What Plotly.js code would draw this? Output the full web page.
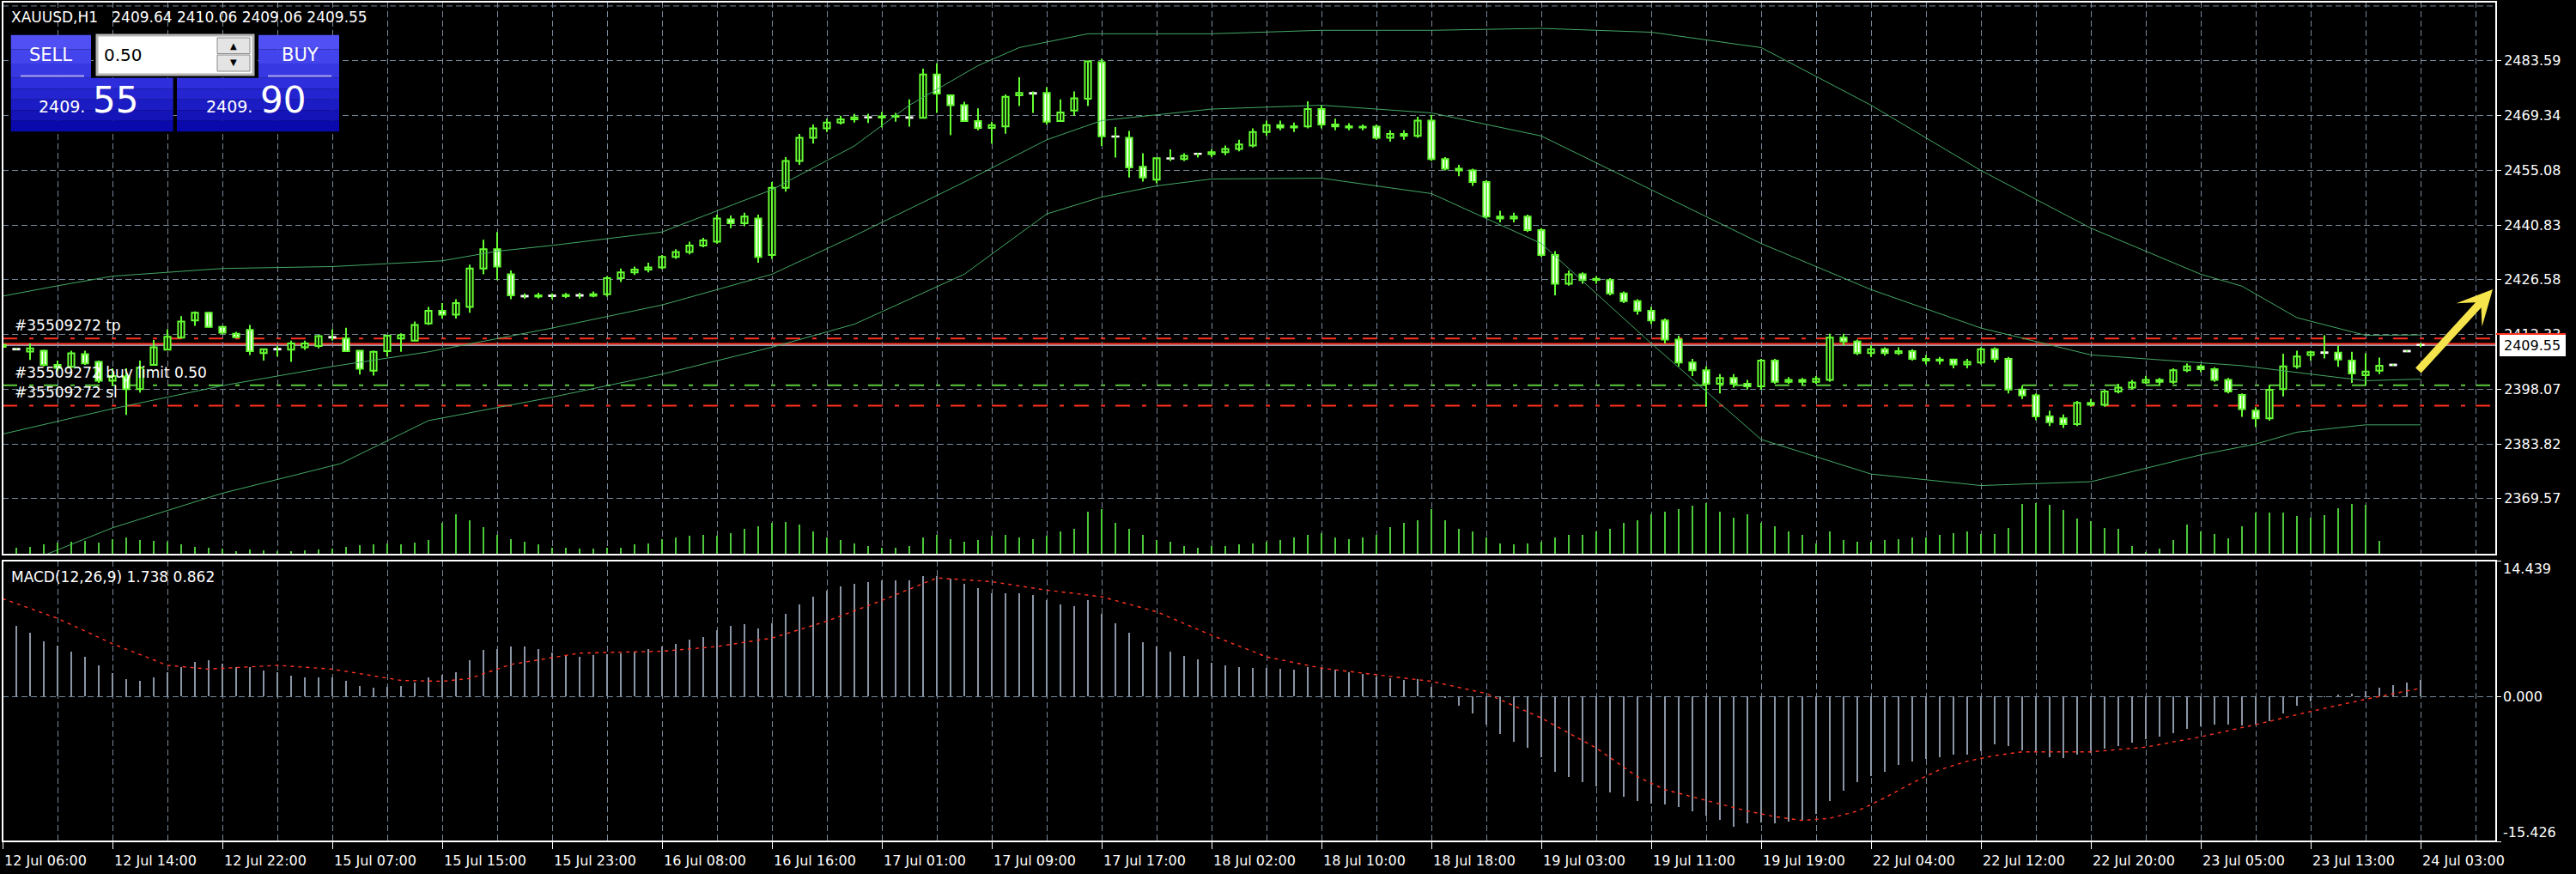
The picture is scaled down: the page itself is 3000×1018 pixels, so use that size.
<!DOCTYPE html>
<html><head><meta charset="utf-8">
<script src="https://cdn.plot.ly/plotly-3.0.1.min.js"></script>
<style>html,body{margin:0;padding:0;background:#000;}#chart{width:3000px;height:1018px;}</style>
</head><body><div id="chart"></div>
<script>
// ---------------- DATA ----------------
const opens = [
2409.1,2408.6,2407.9,2408.1,2404.4,2403.9,2407.2,2405.2,2400.3,2401.4,
2398.1,2404.4,2408.4,2411.5,2416.0,2418.0,2414.3,2412.5,2413.5,2407.5,
2408.6,2408.4,2409.0,2409.3,2411.7,2411.3,2408.1,2402.9,2408.0,2411.3,
2410.7,2415.2,2418.5,2417.5,2419.5,2429.5,2434.5,2428.0,2422.4,2422.2,
2422.5,2422.3,2422.6,2422.4,2422.8,2427.0,2428.5,2429.2,2429.8,2432.5,
2433.8,2435.5,2436.5,2442.3,2441.3,2442.5,2433.0,2450.5,2457.5,2463.5,
2466.0,2467.5,2468.3,2468.9,2468.8,2469.0,2468.9,2468.7,2480.0,2474.6,
2472.0,2467.9,2466.1,2466.5,2474.6,2475.2,2475.2,2467.9,2470.6,2473.7,
2483.2,2463.9,2463.5,2456.0,2452.6,2458.2,2458.0,2459.4,2459.3,2459.8,
2460.6,2461.5,2465.0,2466.8,2466.2,2466.5,2471.0,2467.0,2466.5,2466.2,
2466.4,2463.5,2464.5,2464.0,2468.0,2458.0,2455.5,2455.0,2452.0,2443.0,
2442.5,2443.0,2439.5,2433.0,2425.5,2428.0,2426.5,2426.5,2423.0,2421.0,
2418.5,2416.0,2411.0,2405.0,2403.0,2399.5,2401.0,2399.5,2398.8,2405.5,
2400.0,2400.5,2400.0,2400.5,2411.5,2410.5,2407.5,2408.5,2407.5,2408.0,
2406.0,2405.5,2405.8,2404.5,2405.0,2408.5,2406.0,2398.0,2396.5,2391.0,
2390.5,2389.0,2394.5,2394.0,2397.5,2398.5,2399.8,2400.5,2400.0,2403.0,
2404.0,2403.3,2400.5,2396.6,2392.5,2390.5,2398.1,2404.0,2407.0,2407.7,
2407.6,2405.5,2401.7,2402.9,2404.5,2408.1,2409.64];
const highs = [
2409.8,2408.7,2410.0,2408.3,2405.5,2408.1,2408.1,2405.5,2403.5,2403.5,
2405.5,2410.9,2413.7,2417.1,2418.3,2418.1,2414.6,2413.0,2414.8,2408.6,
2409.3,2410.7,2410.7,2412.2,2413.7,2414.1,2408.2,2408.1,2412.2,2412.6,
2415.7,2419.5,2420.5,2421.5,2430.5,2437.0,2439.0,2429.0,2423.0,2423.2,
2423.0,2423.1,2423.2,2423.5,2427.5,2429.5,2430.0,2431.0,2433.0,2434.5,
2436.5,2437.5,2443.5,2443.3,2444.0,2443.5,2452.0,2458.5,2464.5,2467.0,
2468.5,2469.3,2469.8,2469.8,2470.3,2470.0,2473.5,2481.5,2482.9,2474.7,
2472.9,2471.2,2467.7,2474.8,2479.3,2475.6,2476.7,2473.5,2475.6,2483.6,
2484.1,2466.3,2465.3,2459.5,2458.2,2460.5,2459.5,2459.6,2460.5,2461.5,
2463.0,2466.0,2468.0,2468.0,2467.5,2473.0,2472.0,2468.5,2467.3,2467.0,
2467.0,2465.5,2465.5,2469.0,2469.5,2458.5,2456.5,2455.5,2452.5,2444.5,
2444.0,2443.5,2440.0,2434.0,2429.0,2428.5,2427.5,2427.0,2423.5,2421.5,
2419.5,2416.5,2412.0,2406.0,2404.0,2402.0,2402.0,2400.5,2406.0,2406.0,
2401.2,2401.0,2401.5,2412.5,2412.5,2411.0,2409.5,2409.0,2409.0,2408.5,
2407.0,2406.5,2406.0,2406.0,2409.0,2409.0,2406.5,2399.0,2397.0,2392.5,
2391.5,2395.0,2395.5,2398.0,2399.5,2400.5,2401.5,2401.0,2403.5,2404.8,
2404.5,2403.8,2401.0,2397.0,2393.4,2399.2,2407.3,2408.1,2408.1,2412.1,
2409.4,2407.8,2407.4,2406.3,2404.6,2408.2,2410.06];
const lows = [
2409.0,2408.3,2405.7,2404.0,2402.8,2403.7,2404.4,2399.7,2399.0,2391.4,
2397.2,2404.3,2408.3,2411.4,2414.6,2414.2,2412.4,2411.5,2407.0,2405.5,
2406.6,2405.2,2408.3,2408.7,2410.7,2407.9,2401.9,2401.6,2406.6,2407.8,
2410.6,2414.8,2416.5,2416.5,2418.0,2428.0,2426.5,2421.5,2421.6,2421.7,
2421.5,2421.8,2421.7,2422.0,2422.2,2426.0,2427.8,2428.5,2429.3,2432.0,
2433.2,2435.0,2436.0,2440.0,2440.5,2431.0,2432.0,2449.5,2456.5,2462.0,
2465.0,2467.0,2467.5,2467.4,2466.2,2467.7,2466.4,2468.6,2470.0,2464.2,
2467.8,2465.5,2462.0,2464.6,2471.8,2470.0,2467.0,2467.8,2469.2,2471.8,
2461.4,2458.4,2453.2,2452.1,2451.7,2457.5,2457.5,2458.4,2458.5,2459.0,
2460.0,2461.0,2464.0,2465.5,2465.0,2466.0,2466.0,2465.5,2465.5,2465.5,
2463.0,2462.5,2463.0,2463.5,2457.5,2455.0,2453.5,2451.0,2442.5,2441.5,
2441.5,2439.0,2432.5,2422.5,2425.0,2425.5,2425.5,2422.5,2420.5,2417.5,
2415.0,2410.0,2404.0,2401.5,2393.5,2397.0,2398.5,2398.0,2398.0,2399.5,
2399.5,2399.2,2399.5,2400.0,2409.5,2407.0,2406.5,2406.8,2407.0,2405.5,
2404.5,2404.5,2403.5,2403.5,2404.5,2405.0,2397.0,2395.5,2390.0,2388.5,
2388.0,2388.5,2393.5,2393.5,2397.0,2398.0,2399.5,2399.2,2399.5,2402.5,
2402.5,2400.0,2397.0,2390.9,2388.2,2389.9,2396.2,2403.4,2405.5,2406.1,
2403.9,2399.7,2399.2,2402.0,2404.2,2407.8,2409.06];
const closes = [
2409.6,2408.4,2408.7,2404.4,2403.6,2407.4,2404.8,2400.3,2401.5,2398.1,
2403.7,2409.0,2411.7,2415.7,2418.0,2414.3,2412.8,2411.6,2408.0,2408.5,
2408.4,2410.0,2410.0,2411.9,2411.5,2408.0,2403.4,2407.8,2412.0,2412.2,
2414.8,2418.5,2417.5,2420.5,2429.5,2434.5,2430.0,2422.5,2422.2,2422.5,
2422.3,2422.6,2422.4,2422.8,2427.0,2428.5,2429.2,2429.8,2432.5,2433.8,
2435.5,2436.8,2442.5,2441.3,2443.0,2432.5,2450.5,2457.5,2463.5,2466.0,
2467.5,2468.3,2468.8,2468.8,2469.1,2469.2,2468.7,2480.0,2475.0,2472.0,
2467.9,2466.1,2466.8,2474.2,2475.2,2475.0,2467.7,2470.1,2473.8,2483.4,
2463.9,2463.8,2455.8,2453.2,2458.2,2458.1,2458.8,2459.3,2459.8,2460.6,
2461.8,2465.0,2466.8,2466.2,2466.5,2471.0,2467.0,2466.5,2466.2,2466.4,
2463.5,2464.5,2464.0,2468.0,2458.0,2455.5,2455.0,2452.0,2443.0,2442.5,
2443.0,2439.5,2433.0,2425.5,2428.0,2426.5,2426.8,2423.0,2421.0,2418.5,
2416.0,2411.0,2405.0,2403.0,2399.5,2401.0,2399.5,2398.8,2405.5,2400.0,
2400.5,2400.0,2400.8,2411.5,2410.5,2407.5,2408.5,2407.5,2408.0,2406.0,
2405.5,2405.8,2404.5,2405.2,2408.5,2406.0,2398.0,2396.5,2391.0,2389.5,
2389.0,2394.5,2394.0,2397.5,2398.5,2399.8,2400.5,2400.0,2403.0,2404.0,
2403.3,2400.5,2397.5,2392.9,2390.5,2397.9,2404.0,2406.6,2407.7,2407.5,
2405.8,2402.2,2402.7,2404.2,2404.3,2407.9,2409.55];
const volumes = [
20,25,28,36,42,45,48,42,55,60,50,48,45,36,28,24,20,12,
18,15,12,12,15,18,22,28,33,36,40,36,42,52,
110,140,120,95,70,55,45,35,25,
25,20,20,25,25,35,40,55,60,65,70,65,75,90,100,110,115,105,80,60,50,40,30,
25,25,30,60,70,55,45,50,65,70,60,55,65,80,90,150,160,110,90,70,50,45,30,
25,30,30,35,40,45,50,60,70,75,60,55,60,70,95,110,120,160,120,90,80,60,40,
35,40,45,60,70,70,80,90,110,120,140,150,160,170,180,150,130,140,110,100,80,70,40,
80,50,45,45,50,55,60,60,70,75,80,72,72,92,176,179,173,156,125,117,92,89,29,
10,20,50,104,80,71,56,98,146,146,146,134,130,137,161,176,173,47,3,3,3];
const macdMain = [
8.0,7.52,6.76,5.84,5.4,4.75,4.20,3.32,2.5,1.80,1.64,2.01,2.6,3.07,3.68,3.84,3.5,3.07,3.07,2.77,
2.6,2.22,2.01,2.01,2.0,1.64,1.12,0.91,1.0,1.12,1.49,2.01,2.3,2.56,3.84,4.93,5.0,5.30,
5.3,5.0,4.7,4.4,4.2,4.4,4.5,4.6,4.8,5.0,5.3,
5.6,6.0,6.3,7.0,7.5,7.7,7.2,7.8,
8.8,9.8,10.6,11.2,11.7,12.0,12.2,12.3,12.3,12.3,12.8,
12.8,12.5,12.0,11.5,11.0,11.0,11.0,10.8,10.2,9.8,9.6,10.2,8.8,
7.8,6.8,5.8,5.3,4.8,4.3,3.9,3.6,3.3,3.1,3.0,3.0,
2.9,2.8,3.1,3.0,2.8,2.6,2.4,2.1,1.9,1.7,1.8,1.0,
-0.2,-1.0,-1.8,-3.0,-4.0,-4.8,-5.5,-6.5,-8.0,-8.6,-9.1,-9.6,-10.2,-10.7,
-11.14,-11.4,-11.5,-11.8,-12.2,-12.7,-13.1,-13.9,-13.5,-13.4,-13.5,-13.3,-13.1,-12.5,-11.1,-10.0,
-9.1,-8.5,-8.0,-7.3,-6.9,-6.7,-6.5,-6.2,-6.2,-5.8,-5.1,-5.3,-5.7,-5.8,-6.5,
-6.6,-6.2,-6.0,-5.6,-5.3,-4.9,-4.6,-4.3,-3.9,-3.5,-3.2,-3.0,-3.0,-3.1,-3.0,-2.6,-1.8,-1.0,-0.5,-0.1,
0.2,0.3,0.6,0.9,1.2,1.5,1.738];
const signalIdx = [0,4,8,12,15,20,24,29,32,34,37,42,48,52,56,60,64,68,72,76,80,84,88,92,96,100,104,108,112,116,119,121,123,125,127,129,131,133,135,137,139,141,143,145,147,149,152,156,160,164,168,172,176];
const signalVal = [10.4,8.3,5.6,3.3,2.9,3.3,2.9,1.7,1.6,1.9,3.4,4.6,4.8,5.3,6.2,8.0,10.2,12.6,12.2,11.3,10.6,9.0,6.5,4.2,3.0,2.3,1.6,0.3,-2.3,-5.5,-8.55,-9.93,-10.68,-11.44,-12.2,-12.8,-13.2,-12.97,-12.2,-10.8,-9.2,-7.8,-6.9,-6.3,-5.9,-5.9,-5.9,-5.4,-4.3,-3.0,-1.6,-0.3,0.862];
const bbUpperIdx = [0,4,8,16,24,32,36,40,48,56,62,66,71,74,79,88,96,104,112,120,128,136,144,152,160,163,167,172,176];
const bbUpper = [2422.3,2425,2427.5,2429.5,2430,2431.5,2434,2435.5,2439,2450,2461.4,2472,2482.3,2487,2490.6,2490.6,2491.5,2491.5,2492,2491,2487,2472,2455,2440,2428,2424.9,2416.7,2412.1,2412.2];
const bbMiddleIdx = [0,8,16,24,31,40,48,56,62,70,76,80,88,96,104,112,120,128,136,144,152,160,163,168,172,176];
const bbMiddle = [2386.4,2393,2399,2404,2407.8,2414,2420,2428,2438,2452,2463,2468,2471,2472,2470,2464,2450,2436,2424,2414,2407,2405,2404.2,2402,2400.3,2400.7];
const bbLowerIdx = [0,8,16,24.6,31,40,48,56,62,70,76,80,84,88,96,104,112,120,128,136,144,152,160,164,167,172,176];
const bbLower = [2350.5,2362,2371,2378.7,2389.9,2396,2402,2409,2415,2428,2443.7,2448.1,2451,2452.8,2453,2449,2436,2410,2385,2376,2373,2374,2381,2383.8,2386.9,2388.8,2388.8];
const priceTicks = [2483.59,2469.34,2455.08,2440.83,2426.58,2412.33,2398.07,2383.82,2369.57];
const priceTickText = ['2483.59','2469.34','2455.08','2440.83','2426.58','2412.33','2398.07','2383.82','2369.57'];
const extraPriceGrid = [2497.84];
const macdTicks = [14.439,0,-15.426];
const macdTickText = ['14.439','0.000','-15.426'];
const timeLabels = ['12 Jul 06:00','12 Jul 14:00','12 Jul 22:00','15 Jul 07:00','15 Jul 15:00','15 Jul 23:00','16 Jul 08:00','16 Jul 16:00','17 Jul 01:00','17 Jul 09:00','17 Jul 17:00','18 Jul 02:00','18 Jul 10:00','18 Jul 18:00','19 Jul 03:00','19 Jul 11:00','19 Jul 19:00','22 Jul 04:00','22 Jul 12:00','22 Jul 20:00','23 Jul 05:00','23 Jul 13:00','24 Jul 03:00'];
const timeLabelIdx = [0,8,16,24,32,40,48,56,64,72,80,88,96,104,112,120,128,136,144,152,160,168,176];
const orderTp = 2411.3, orderBuyLimit = 2399.1, orderSl = 2393.8;
const askPrice = 2409.90, bidPrice = 2409.55;
const titleText = 'XAUUSD,H1\u00a0\u00a0 2409.64 2410.06 2409.06 2409.55';
const macdText = 'MACD(12,26,9) 1.738 0.862';
const lotText = '0.50';
const sellBig = '55', buyBig = '90', priceSmall = '2409.';

// ---------------- GEOMETRY ----------------
const PL=3, PR=2907, PT=2, PB=980;
const PW=PR-PL, PH=PB-PT;
const px = x => (x-PL)/PW;
const py = y => (PB-y)/PH;
const GREEN='#66ff33', GRID='#778899', FONT='DejaVu Sans', BAND='#44a866';
const GDASH='7px,4px';

const idx = opens.map((_,i)=>i);
const bull={x:[],b:[],h:[]}, bear={x:[],b:[],h:[],lc:[]};
idx.forEach(i=>{
  const o=opens[i], c=closes[i];
  if(c>=o){bull.x.push(i);bull.b.push(o);bull.h.push(c-o);}
  else {bear.x.push(i);bear.b.push(c);bear.h.push(o-c);bear.lc.push((o-c)<0.3?'#ffffff':GREEN);}
});
const wx=[], wy=[];
idx.forEach(i=>{wx.push(i,i,null); wy.push(lows[i],highs[i],null);});

const traces = [
  {type:'bar', x:idx, y:volumes, xaxis:'x', yaxis:'y3', width:0.12, marker:{color:'#4cc83a', line:{width:0}}, hoverinfo:'skip'},
  {type:'scatter', mode:'lines', x:wx, y:wy, xaxis:'x', yaxis:'y', line:{color:GREEN, width:2}, hoverinfo:'skip', connectgaps:false},
  {type:'bar', x:bull.x, base:bull.b, y:bull.h, xaxis:'x', yaxis:'y', width:0.45, marker:{color:'#000', line:{color:GREEN, width:2}}, hoverinfo:'skip'},
  {type:'bar', x:bear.x, base:bear.b, y:bear.h, xaxis:'x', yaxis:'y', width:0.45, marker:{color:'#fff', line:{color:bear.lc, width:2}}, hoverinfo:'skip'},
  {type:'scatter', mode:'lines', x:bbUpperIdx, y:bbUpper, xaxis:'x', yaxis:'y', line:{color:BAND, width:1}, hoverinfo:'skip'},
  {type:'scatter', mode:'lines', x:bbMiddleIdx, y:bbMiddle, xaxis:'x', yaxis:'y', line:{color:BAND, width:1}, hoverinfo:'skip'},
  {type:'scatter', mode:'lines', x:bbLowerIdx, y:bbLower, xaxis:'x', yaxis:'y', line:{color:BAND, width:1}, hoverinfo:'skip'},
  {type:'bar', x:idx, y:macdMain, xaxis:'x2', yaxis:'y2', width:0.12, marker:{color:'#8a95a6', line:{width:0}}, hoverinfo:'skip'},
  {type:'scatter', mode:'lines', x:signalIdx, y:signalVal, xaxis:'x2', yaxis:'y2', line:{color:'#ff3322', width:1.4, dash:'4px,5px'}, hoverinfo:'skip'}
];

const shapes = [];
extraPriceGrid.forEach(p=>shapes.push({type:'line', xref:'paper', yref:'y', x0:0, x1:1, y0:p, y1:p, line:{color:GRID, width:1, dash:GDASH}, layer:'between'}));
shapes.push({type:'line', xref:'paper', yref:'y', x0:0, x1:px(2902), y0:orderTp, y1:orderTp, line:{color:'#ff3020', width:2, dash:'17px,14px,5px,12px'}, layer:'between'});
shapes.push({type:'line', xref:'paper', yref:'y', x0:0, x1:px(2902), y0:orderSl, y1:orderSl, line:{color:'#ff3020', width:2, dash:'17px,14px,5px,12px'}, layer:'between'});
shapes.push({type:'line', xref:'paper', yref:'y', x0:0, x1:px(2902), y0:orderBuyLimit, y1:orderBuyLimit, line:{color:'#5ccc3c', width:2, dash:'17px,14px,5px,12px'}, layer:'between'});
shapes.push({type:'line', xref:'paper', yref:'y', x0:0, x1:1, y0:bidPrice, y1:bidPrice, line:{color:'#8f9aa8', width:2}, layer:'between'});
shapes.push({type:'line', xref:'paper', yref:'y', x0:0, x1:1, y0:askPrice, y1:askPrice, line:{color:'#ff3020', width:2}, layer:'between'});
shapes.push({type:'rect', xref:'paper', yref:'paper', x0:px(3), x1:px(2907), y0:py(646), y1:py(2), line:{color:'#fff', width:2}, fillcolor:'rgba(0,0,0,0)', layer:'above'});
shapes.push({type:'rect', xref:'paper', yref:'paper', x0:px(3), x1:px(2907), y0:py(980), y1:py(653), line:{color:'#fff', width:2}, fillcolor:'rgba(0,0,0,0)', layer:'above'});
function rectPx(x0,y0,x1,y1,fill,line,lw){shapes.push({type:'rect', xref:'paper', yref:'paper', x0:px(x0), x1:px(x1), y0:py(y1), y1:py(y0), fillcolor:fill, line:{color:line||fill, width:lw||0}, layer:'above'});}
const upC=['#5050f4','#4444ec','#3838e2'];
const loC=['#2e2edc','#2424d0','#1c1cc4','#1414b8','#0a0aac'];
[[40.7,57.4],[57.4,74],[74,90.7]].forEach((r,k)=>{rectPx(12.7,r[0],106,r[1],upC[k]); rectPx(301,r[0],395,r[1],upC[k]);});
[[90.7,103.2],[103.2,115.7],[115.7,128.2],[128.2,140.7],[140.7,153.3]].forEach((r,k)=>{rectPx(12.7,r[0],201.7,r[1],loC[k]); rectPx(206,r[0],395,r[1],loC[k]);});
shapes.push({type:'line', xref:'paper', yref:'paper', x0:px(24), x1:px(98), y0:py(88.5), y1:py(88.5), line:{color:'#a4a4ee', width:2}, layer:'above'});
shapes.push({type:'line', xref:'paper', yref:'paper', x0:px(312), x1:px(386), y0:py(88.5), y1:py(88.5), line:{color:'#a4a4ee', width:2}, layer:'above'});
rectPx(113,41,295,87,'#ffffff','#b4b4b4',3);
rectPx(253,44,291,62.5,'#e4e4e4','#8a8a8a',1);
rectPx(253,64,291,83,'#e4e4e4','#8a8a8a',1);
rectPx(2911,388,2988,415,'#ffffff','#ffffff',0);
shapes.push({type:'line', xref:'paper', yref:'paper', x0:px(2907), x1:px(2988), y0:py(389), y1:py(389), line:{color:'#ff3020', width:2}, layer:'above'});

const ann = [];
function txt(t,x,y,size,color,xanchor,extra){ann.push(Object.assign({text:t, xref:'paper', yref:'paper', x:px(x), y:py(y), xanchor:xanchor||'left', yanchor:'middle', showarrow:false, font:{family:FONT, size:size, color:color||'#fff'}},extra||{}));}
txt(titleText,11,20,17);
txt(macdText,11,672,17);
txt('SELL',59,64,21,'#fff','center');
txt('BUY',349,64,21,'#fff','center');
txt(lotText,119,64,20,'#000');
txt('\u25B2',272,53,10,'#000','center');
txt('\u25BC',272,73,10,'#000','center');
txt(priceSmall,101,124,19,'#fff','right');
txt(sellBig,106,116,42,'#fff','left');
txt(priceSmall,296,124,19,'#fff','right');
txt(buyBig,301,116,42,'#fff','left');
txt(String(bidPrice.toFixed(2)),2949.5,402,16,'#000','center');
[[orderTp,'#35509272 tp'],[orderBuyLimit,'#35509272 buy limit 0.50'],[orderSl,'#35509272 sl']].forEach(o=>{
  ann.push({text:o[1], xref:'paper', yref:'y', x:px(15), y:o[0], yshift:15, xanchor:'left', yanchor:'middle', showarrow:false, font:{family:FONT,size:17,color:'#fff'}});
});
ann.push({text:macdTickText[0], xref:'paper', yref:'y2', x:px(2913), y:macdTicks[0], xanchor:'left', yanchor:'top', yshift:2, showarrow:false, font:{family:FONT,size:16,color:'#fff'}});
ann.push({text:macdTickText[1], xref:'paper', yref:'y2', x:px(2913), y:macdTicks[1], xanchor:'left', yanchor:'middle', showarrow:false, font:{family:FONT,size:16,color:'#fff'}});
ann.push({text:macdTickText[2], xref:'paper', yref:'y2', x:px(2913), y:macdTicks[2], xanchor:'left', yanchor:'bottom', yshift:-1, showarrow:false, font:{family:FONT,size:16,color:'#fff'}});
timeLabels.forEach((t,k)=>{
  ann.push({text:t, xref:'x2', yref:'paper', x:timeLabelIdx[k], xshift:0, y:py(1003), xanchor:'left', yanchor:'middle', showarrow:false, font:{family:FONT,size:16,color:'#fff'}});
});
ann.push({text:'', xref:'paper', yref:'paper', x:px(2903), y:py(337), ax:-88, ay:96, showarrow:true, arrowhead:3, arrowsize:0.75, arrowwidth:9, arrowcolor:'#f6e44c'});

const layout = {
  width:3000, height:1018, paper_bgcolor:'#000', plot_bgcolor:'#000',
  margin:{l:PL, r:3000-PR, t:PT, b:1018-PB}, showlegend:false, barmode:'overlay', bargap:0,
  font:{family:FONT, color:'#fff', size:16},
  xaxis:{domain:[0,1], range:[0,181.5], anchor:'y', showticklabels:false, tickmode:'linear', tick0:0, dtick:4, ticks:'', showgrid:true, gridcolor:GRID, griddash:GDASH, gridwidth:1, zeroline:false, showline:false},
  xaxis2:{domain:[0,1], range:[0,181.5], anchor:'y2', matches:'x', tickmode:'array', tickvals:timeLabelIdx, showticklabels:false, ticks:'outside', ticklen:8, tickcolor:'#fff', tickwidth:1, showgrid:true, gridcolor:GRID, griddash:GDASH, gridwidth:1, zeroline:false, showline:false,
    minor:{tickmode:'linear', tick0:0, dtick:4, showgrid:true, gridcolor:GRID, griddash:GDASH, gridwidth:1, ticks:''}},
  yaxis:{domain:[py(646),1], range:[2355.02,2498.94], anchor:'x', side:'right', tickmode:'array', tickvals:priceTicks, ticktext:priceTickText, ticks:'outside', ticklen:5, tickcolor:'#fff', tickwidth:1, showgrid:true, gridcolor:GRID, griddash:GDASH, gridwidth:1, zeroline:false, showline:false, tickfont:{family:FONT,size:16,color:'#fff'}},
  yaxis3:{overlaying:'y', anchor:'x', range:[0,1932], visible:false, showgrid:false},
  yaxis2:{domain:[0,py(653)], range:[-15.426,14.439], anchor:'x2', side:'right', tickmode:'array', tickvals:macdTicks, showticklabels:false, ticks:'outside', ticklen:5, tickcolor:'#fff', tickwidth:1, showgrid:true, gridcolor:GRID, griddash:GDASH, gridwidth:1, zeroline:false, showline:false},
  shapes:shapes, annotations:ann
};
Plotly.newPlot('chart', traces, layout, {staticPlot:true, displayModeBar:false});
</script></body></html>
